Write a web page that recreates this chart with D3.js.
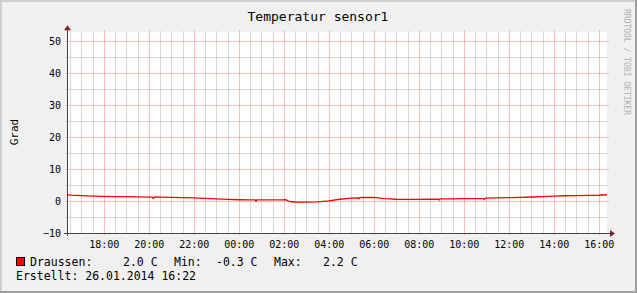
<!DOCTYPE html>
<html><head><meta charset="utf-8">
<script src="https://cdn.jsdelivr.net/npm/d3@7/dist/d3.min.js"></script>
<style>html,body{margin:0;padding:0;background:#F0F0F0;}svg{display:block;}</style>
</head><body>
<script>
// ---- data ----
const title = "Temperatur sensor1";
const yLabel = "Grad";
const watermark = "RRDTOOL / TOBI OETIKER";
const startTime = "2014-01-25 16:22";
const endTime = "2014-01-26 16:22";
// sample times (day rolls over after midnight)
const times = ["16:22","16:30","17:00","17:30","18:00","18:30","19:00","19:30","20:00","20:10","20:12","20:16","20:30","21:00","21:30","22:00","22:30","23:00","23:30",
"00:00","00:30","00:44","00:46","00:48","01:00","01:30","02:00","02:05","02:15","02:30","03:00","03:30","04:00","04:30","05:00","05:18","05:20","05:22","05:30","06:00","06:30","07:00","07:30","08:00","08:30","08:53","08:55","08:57","09:00","09:30","10:00","10:30","10:53","10:55","10:57","11:00","11:30","12:00","12:30","13:00","13:30","14:00","14:30","15:00","15:30","16:00","16:22"];
const values = [2.1,1.9,1.75,1.6,1.5,1.45,1.4,1.35,1.25,1.25,0.8,1.3,1.25,1.2,1.1,1.05,0.85,0.7,0.55,
0.45,0.42,0.4,-0.05,0.4,0.4,0.4,0.45,0.5,-0.1,-0.25,-0.3,-0.2,0.1,0.6,0.95,1.05,0.7,1.1,1.15,1.2,0.8,0.6,0.55,0.55,0.6,0.65,0.35,0.7,0.7,0.75,0.8,0.8,0.8,0.5,0.9,0.95,1.05,1.1,1.2,1.3,1.45,1.6,1.7,1.75,1.8,1.85,2.0];
const yTicks = [-10,0,10,20,30,40,50];
const yMinor = [-5,5,15,25,35,45];
const yDomain = [-10, 52.6];
const seriesName = "Draussen:";
const legendCur = "2.0 C", legendMin = "-0.3 C", legendMax = "2.2 C";
const created = "Erstellt: 26.01.2014 16:22";

// ---- build ----
const W = 637, H = 293;
const parse = d3.timeParse("%Y-%m-%d %H:%M");
const t0 = parse(startTime), t1 = parse(endTime);
let day = 25, prevH = -1;
const data = times.map((s,i)=>{
  const h = +s.slice(0,2);
  if (prevH > h) day++;
  prevH = h;
  return {t: parse(`2014-01-${day} ${s}`), v: values[i]};
});

const svg = d3.select("body").append("svg").attr("width",W).attr("height",H);
const mono = "'DejaVu Sans Mono', monospace";
// background + 3d border
svg.append("rect").attr("width",W).attr("height",H).attr("fill","#F0F0F0");
svg.append("path").attr("d",`M0,0H${W}V2H2V${H}H0Z`).attr("fill","#CFCFCF");
svg.append("path").attr("d",`M${W},0V${H}H0V${H-2}H${W-2}V0Z`).attr("fill","#9E9E9E");

const x = d3.scaleTime().domain([t0,t1]).range([67,607]);
const y = d3.scaleLinear().domain(yDomain).range([233.3,32.3]);
const X0 = x.range()[0], X1 = x.range()[1], Y0 = y.range()[0], Y1 = y.range()[1];

svg.append("rect").attr("x",X0).attr("y",Y1).attr("width",X1-X0).attr("height",Y0-Y1).attr("fill","#fff");

const g = svg.append("g").attr("shape-rendering","crispEdges");
const minorCol = "rgba(186,186,186,0.6)", majorCol = "rgba(255,128,128,0.5)";
// minor x grid
const xMinor = d3.timeMinute.every(30).range(t0,t1).filter(d=>!(d.getMinutes()===0 && d.getHours()%2===0));
g.selectAll(".xm").data(xMinor).join("line")
  .attr("x1",d=>Math.round(x(d))+0.5).attr("x2",d=>Math.round(x(d))+0.5)
  .attr("y1",Y1-1).attr("y2",Y0+1).attr("stroke",minorCol);
g.selectAll(".ym").data(yMinor).join("line")
  .attr("x1",X0-1).attr("x2",X1+2)
  .attr("y1",d=>Math.round(y(d))+0.5).attr("y2",d=>Math.round(y(d))+0.5).attr("stroke",minorCol);
// major grid
const xMajor = d3.timeHour.every(2).range(t0,t1);
g.selectAll(".xM").data(xMajor).join("line")
  .attr("x1",d=>Math.round(x(d))+0.5).attr("x2",d=>Math.round(x(d))+0.5)
  .attr("y1",Y1-2).attr("y2",Y0+2).attr("stroke",majorCol);
g.selectAll(".yM").data(yTicks).join("line")
  .attr("x1",X0-2).attr("x2",X1+2)
  .attr("y1",d=>Math.round(y(d))+0.5).attr("y2",d=>Math.round(y(d))+0.5).attr("stroke",majorCol);

// data line
const line = d3.line().x(d=>x(d.t)).y(d=>y(d.v));
svg.append("path").datum(data).attr("d",line).attr("fill","none")
  .attr("stroke","#FF0000").attr("stroke-width",1.3).attr("stroke-linejoin","round");

// axes
const axCol = "#444", arCol = "#802020";
g.append("line").attr("x1",X0-3).attr("x2",X1+4).attr("y1",Math.round(Y0)+0.5).attr("y2",Math.round(Y0)+0.5).attr("stroke",axCol);
g.append("line").attr("x1",X0+0.5).attr("x2",X0+0.5).attr("y1",Y0+3).attr("y2",Y1-4).attr("stroke",axCol);
svg.append("path").attr("d",`M${X1+3},${Math.round(Y0)-3}L${X1+8},${Math.round(Y0)+0.5}L${X1+3},${Math.round(Y0)+4}Z`).attr("fill",arCol);
svg.append("path").attr("d",`M${X0-3},${Y1-2}L${X0+0.5},${Y1-7}L${X0+4},${Y1-2}Z`).attr("fill",arCol);

// x axis labels
const xa = svg.append("g").attr("transform",`translate(0,${Y0})`)
  .call(d3.axisBottom(x).tickValues(xMajor).tickFormat(d3.timeFormat("%H:%M")).tickSize(0).tickPadding(0));
xa.select(".domain").remove();
xa.selectAll("text").attr("font-family",mono).attr("font-size","10px").attr("fill","#000").attr("dy",null).attr("y",14.5);
// y axis labels
const ya = svg.append("g").attr("transform",`translate(${X0-6},0)`)
  .call(d3.axisLeft(y).tickValues(yTicks).tickFormat(d3.format("d")).tickSize(0).tickPadding(0));
ya.select(".domain").remove();
ya.selectAll("text").attr("font-family",mono).attr("font-size","10px").attr("fill","#000").attr("dy","0.36em");

// title
svg.append("text").attr("x",318).attr("y",20.5).attr("text-anchor","middle")
  .attr("font-family",mono).attr("font-size","13px").attr("fill","#000").text(title);
// y label
svg.append("text").attr("transform","translate(18,132) rotate(-90)").attr("text-anchor","middle")
  .attr("font-family",mono).attr("font-size","11px").attr("fill","#000").text(yLabel);
// watermark
svg.append("text").attr("transform","translate(624,62) rotate(90)").attr("text-anchor","middle")
  .attr("font-family",mono).attr("font-size","8px").attr("fill","#B0B0B0").text(watermark);

// legend
svg.append("rect").attr("x",16.5).attr("y",257.5).attr("width",8).attr("height",8)
  .attr("fill","#FF0000").attr("stroke","#000").attr("stroke-width",1);
const leg = [[30,seriesName],[123,legendCur],[174,"Min:"],[216,legendMin],[274,"Max:"],[323,legendMax]];
svg.selectAll(".lg").data(leg).join("text").attr("x",d=>d[0]).attr("y",265.5)
  .attr("font-family",mono).attr("font-size","11.5px").attr("fill","#000").text(d=>d[1]);
svg.append("text").attr("x",16).attr("y",279.5).attr("font-family",mono).attr("font-size","11.5px").attr("fill","#000").text(created);
</script>
</body></html>
